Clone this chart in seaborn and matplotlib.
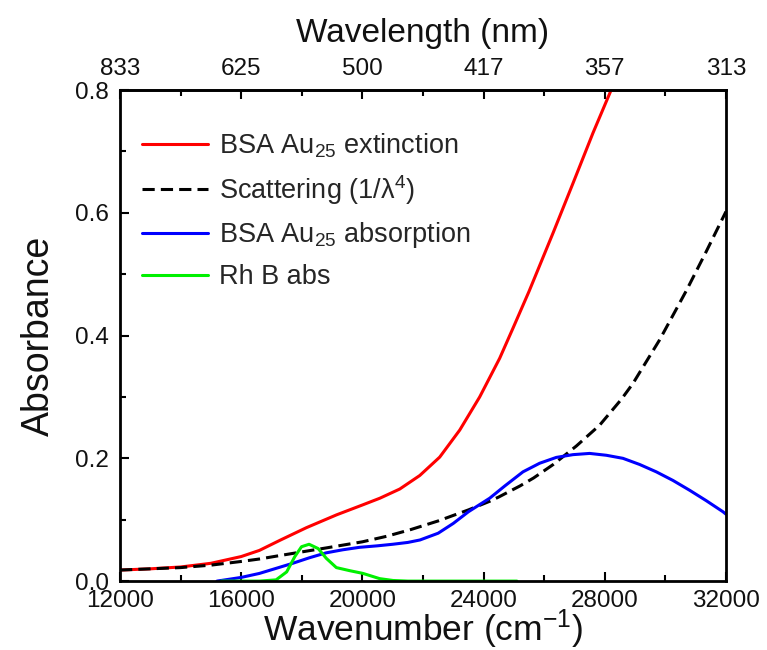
import matplotlib
matplotlib.use("Agg")
import matplotlib.pyplot as plt
import seaborn as sns
import pandas as pd

# BSA-Au25 extinction spectrum
ext_wn = [12000, 13000, 14000, 15000, 16000, 16600, 17300, 18150, 19150, 20000,
          20575, 21233, 21893, 22552, 23212, 23871, 24531, 24970, 25500, 26300,
          26950, 27610, 28210]
ext_abs = [0.018, 0.020, 0.023, 0.029, 0.040, 0.050, 0.067, 0.087, 0.108, 0.124,
           0.135, 0.150, 0.172, 0.202, 0.246, 0.300, 0.363, 0.412, 0.472, 0.568,
           0.648, 0.730, 0.800]

# Rayleigh scattering contribution (1/lambda^4)
sca_wn = [12000, 13000, 14000, 15000, 16000, 16600, 17200, 18300, 18800, 19400,
          20000, 20800, 21600, 22500, 23500, 24200, 24500, 25200, 25650, 26300,
          27060, 27830, 28545, 28930, 29810, 30690, 31350, 32000]
sca_abs = [0.018, 0.020, 0.022, 0.026, 0.032, 0.036, 0.041, 0.050, 0.054, 0.059,
           0.064, 0.073, 0.084, 0.098, 0.116, 0.130, 0.137, 0.155, 0.168, 0.190,
           0.220, 0.254, 0.296, 0.322, 0.393, 0.473, 0.537, 0.602]

# BSA-Au25 absorption (extinction minus scattering)
abs_wn = [15200, 15600, 16000, 16600, 17100, 17700, 18250, 18800, 19350, 19900,
          20500, 21000, 21500, 21900, 22500, 23000, 23500, 24200, 24700, 25300,
          25850, 26400, 26950, 27500, 28050, 28600, 29150, 29700, 30250, 30800,
          31350, 31900, 32000]
abs_abs = [0.000, 0.003, 0.006, 0.0125, 0.020, 0.029, 0.038, 0.046, 0.051, 0.055,
           0.0575, 0.060, 0.063, 0.067, 0.078, 0.094, 0.113, 0.135, 0.155, 0.178,
           0.192, 0.2015, 0.206, 0.208, 0.205, 0.200, 0.190, 0.178, 0.164, 0.148,
           0.131, 0.113, 0.109]

# Rhodamine B absorption
rhb_wn = [15350, 16600, 17150, 17500, 17770, 17990, 18240, 18540, 18810, 19140,
          19580, 20020, 20570, 21010, 21500, 25100]
rhb_abs = [0.000, 0.000, 0.002, 0.015, 0.040, 0.056, 0.060, 0.053, 0.037, 0.022,
           0.017, 0.0125, 0.004, 0.001, 0.000, 0.000]

# axis ticks
x_ticks = [12000, 16000, 20000, 24000, 28000, 32000]
x_minor = [14000, 18000, 22000, 26000, 30000]
wl_labels = ["833", "625", "500", "417", "357", "313"]
y_ticks = [0.0, 0.2, 0.4, 0.6, 0.8]
y_minor = [0.1, 0.3, 0.5, 0.7]

sns.set_theme(style="ticks")
plt.rcParams["font.family"] = ["Liberation Sans", "DejaVu Sans"]
plt.rcParams["mathtext.fontset"] = "custom"
plt.rcParams["mathtext.rm"] = "Liberation Sans"
plt.rcParams["mathtext.it"] = "Liberation Sans:italic"
plt.rcParams["mathtext.default"] = "regular"

fig = plt.figure(figsize=(7.67, 6.5), dpi=100)
ax = fig.add_axes([0.1565, 0.106, 0.790, 0.7555])

lw = 2.2
sns.lineplot(data=pd.DataFrame({"x": ext_wn, "y": ext_abs}), x="x", y="y", ax=ax,
             color="#ff0000", lw=lw, label="BSA Au$_{25}$ extinction")
sns.lineplot(data=pd.DataFrame({"x": sca_wn, "y": sca_abs}), x="x", y="y", ax=ax,
             color="black", lw=lw, linestyle=(0, (4, 2)), label="Scattering (1/λ$^{4}$)")
sns.lineplot(data=pd.DataFrame({"x": abs_wn, "y": abs_abs}), x="x", y="y", ax=ax,
             color="#0000ff", lw=lw, label="BSA Au$_{25}$ absorption")
sns.lineplot(data=pd.DataFrame({"x": rhb_wn, "y": rhb_abs}), x="x", y="y", ax=ax,
             color="#00f000", lw=lw, label="Rh B abs")

ax.set_xlim(12000, 32000)
ax.set_ylim(0, 0.8)
ax.set_xticks(x_ticks)
ax.set_xticks(x_minor, minor=True)
ax.set_xticklabels([str(t) for t in x_ticks])
ax.set_yticks(y_ticks)
ax.set_yticks(y_minor, minor=True)
ax.set_yticklabels([f"{t:.1f}" for t in y_ticks])

for s in ax.spines.values():
    s.set_linewidth(2.0)
    s.set_color("black")
    s.set_visible(True)

tick_color = "#111111"
ax.tick_params(axis="both", which="both", direction="in", width=1.5, color="black",
               labelsize=17.5, labelcolor=tick_color)
ax.tick_params(axis="both", which="major", length=6.5)
ax.tick_params(axis="both", which="minor", length=4)
ax.tick_params(axis="x", pad=6.5)
ax.tick_params(axis="y", pad=8)

ax.set_xlabel("Wavenumber (cm$^{-1}$)", fontsize=25.5, labelpad=-3, color=tick_color)
ax.set_ylabel("Absorbance", fontsize=27, labelpad=13, color=tick_color)

top = ax.secondary_xaxis("top")
top.set_xticks(x_ticks)
top.set_xticklabels(wl_labels)
top.set_xticks(x_minor, minor=True)
top.tick_params(axis="x", which="both", direction="in", width=1.5, color="black",
                labelsize=17.5, labelcolor=tick_color, pad=7)
top.tick_params(axis="x", which="major", length=6.5)
top.tick_params(axis="x", which="minor", length=4)
top.spines["top"].set_linewidth(2.0)
top.set_xlabel("Wavelength (nm)", fontsize=24, labelpad=12, color=tick_color)

ax.legend(loc="upper left", bbox_to_anchor=(0.005, 0.955), frameon=False, fontsize=19.5,
          handlelength=2.45, handletextpad=0.4, labelspacing=0.5, borderaxespad=0.3)

fig.savefig("out.png", dpi=100)
